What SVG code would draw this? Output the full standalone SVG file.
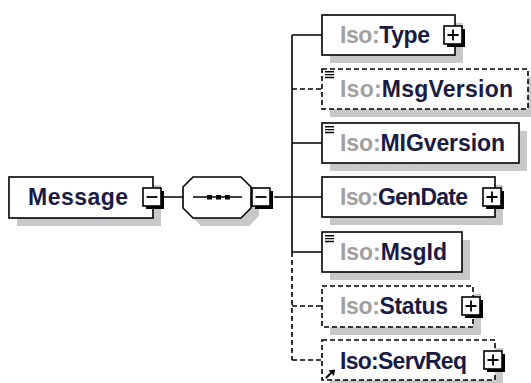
<svg xmlns="http://www.w3.org/2000/svg" xmlns:xlink="http://www.w3.org/1999/xlink" width="531" height="383" viewBox="0 0 531 383">
<style>
.box{fill:#fff;stroke:#000;stroke-width:1.6}
.dash{stroke-dasharray:5 3}
.sh{fill:#c8c8c8}
.ln{stroke:#000;stroke-width:1.6;fill:none}
.t{font-family:"Liberation Sans",Arial,sans-serif;font-weight:bold;font-size:23px;fill:#1a1a45}
.p{fill:#a0a0a0}
</style>
<defs>
<g id="plus">
<rect x="3" y="3" width="18" height="18" fill="#000"/>
<rect x="0" y="0" width="18" height="18" fill="#fff" stroke="#000" stroke-width="1.6"/>
<path d="M3.5 9H14.5M9 3.5V14.5" stroke="#000" stroke-width="1.8"/>
</g>
<g id="minus">
<rect x="3" y="3" width="18" height="18" fill="#000"/>
<rect x="0" y="0" width="18" height="18" fill="#fff" stroke="#000" stroke-width="1.6"/>
<path d="M3.5 9H14.5" stroke="#000" stroke-width="1.8"/>
</g>
<g id="doc">
<path d="M0 0.7H9M0 3.6H9M0 6.5H9" stroke="#000" stroke-width="1.4"/>
</g>
</defs>
<rect width="531" height="383" fill="#fff"/>
<g id="connectors">
<path class="ln" d="M164 197H183M274 197H292M292 35V252M292 35H322M292 143H322M292 197H322M292 252H322"/>
<path class="ln dash" d="M292 252V360M292 89H322M292 306H322M292 360H322"/>
</g>
<g id="Message">
<rect class="sh" x="17" y="185" width="144" height="41"/>
<rect class="box" x="9" y="177" width="144" height="41"/>
<text class="t" x="28" y="205" textLength="100">Message</text>
<use xlink:href="#minus" x="143" y="188"/>
</g>
<g id="sequence">
<polygon class="sh" points="201,185 249,185 259,195 259,216 249,226 201,226 191,216 191,195"/>
<polygon class="box" points="193,177 241,177 251,187 251,208 241,218 193,218 183,208 183,187"/>
<path d="M193 197H242" stroke="#000" stroke-width="1.6"/>
<rect x="207" y="195" width="5" height="4.5"/>
<rect x="216" y="195" width="5" height="4.5"/>
<rect x="225" y="195" width="5" height="4.5"/>
<use xlink:href="#minus" x="252" y="188"/>
</g>
<g id="Type">
<rect class="sh" x="330" y="23" width="133" height="40"/>
<rect class="box" x="322" y="15" width="133" height="40"/>
<text class="t" x="340" y="43" textLength="90"><tspan class="p">Iso:</tspan>Type</text>
<use xlink:href="#plus" x="444" y="26"/>
</g>
<g id="MsgVersion">
<rect class="sh" x="330" y="77" width="206" height="40"/>
<rect class="box dash" x="322" y="69" width="206" height="40"/>
<use xlink:href="#doc" x="325" y="71"/>
<text class="t" x="340" y="97" textLength="173"><tspan class="p">Iso:</tspan>MsgVersion</text>
</g>
<g id="MIGversion">
<rect class="sh" x="330" y="131" width="197" height="40"/>
<rect class="box" x="322" y="123" width="197" height="40"/>
<use xlink:href="#doc" x="325" y="126"/>
<text class="t" x="340" y="151" textLength="165"><tspan class="p">Iso:</tspan>MIGversion</text>
</g>
<g id="GenDate">
<rect class="sh" x="330" y="185" width="173" height="40"/>
<rect class="box" x="322" y="177" width="173" height="40"/>
<text class="t" x="340" y="205" textLength="128"><tspan class="p">Iso:</tspan>GenDate</text>
<use xlink:href="#plus" x="483" y="188"/>
</g>
<g id="MsgId">
<rect class="sh" x="330" y="240" width="140" height="40"/>
<rect class="box" x="322" y="232" width="140" height="40"/>
<use xlink:href="#doc" x="325" y="235"/>
<text class="t" x="340" y="260" textLength="107"><tspan class="p">Iso:</tspan>MsgId</text>
</g>
<g id="Status">
<rect class="sh" x="330" y="294" width="151" height="41"/>
<rect class="box dash" x="322" y="286" width="151" height="41"/>
<text class="t" x="340" y="314" textLength="108"><tspan class="p">Iso:</tspan>Status</text>
<use xlink:href="#plus" x="462" y="297"/>
</g>
<g id="ServReq">
<rect class="sh" x="330" y="348" width="173" height="40"/>
<rect class="box dash" x="322" y="340" width="173" height="40"/>
<text class="t" x="340" y="369" textLength="127">Iso:ServReq</text>
<path d="M326 378L331 373" stroke="#000" stroke-width="2.2"/>
<polygon points="328.5,370.5 335,369.5 334,376"/>
<use xlink:href="#plus" x="484" y="351"/>
</g>
</svg>
